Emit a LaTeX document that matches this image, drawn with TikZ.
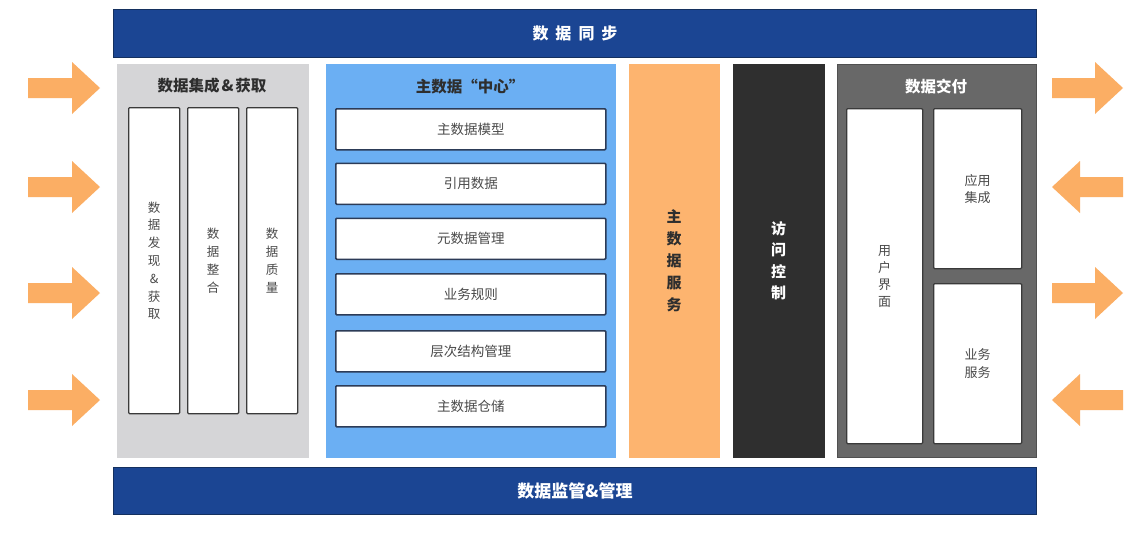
\documentclass[tikz,border=0pt]{standalone}
\usepackage{fontspec}
\setmainfont{Noto Sans CJK SC}
\definecolor{navy}{HTML}{1B4593}
\definecolor{navyedge}{HTML}{14305F}
\definecolor{lgray}{HTML}{D5D5D7}
\definecolor{lblue}{HTML}{6BAFF3}
\definecolor{orangep}{HTML}{FDB46F}
\definecolor{blackp}{HTML}{2F2F2F}
\definecolor{dgray}{HTML}{686868}
\definecolor{dgrayedge}{HTML}{505050}
\definecolor{arrowc}{HTML}{FBAE64}
\definecolor{boxedge}{HTML}{3A3A3A}
\definecolor{rowedge}{HTML}{2C3B57}
\definecolor{txtgray}{HTML}{4A4A4A}
\definecolor{titlec}{HTML}{2E2E2E}
\begin{document}
\begin{tikzpicture}[x=1pt,y=-1pt,
  bar/.style={anchor=north west, fill=navy, draw=navyedge, line width=1pt, inner sep=0pt,
    text=white, font=\bfseries\fontsize{16}{18}\selectfont},
  panel/.style={anchor=north west, inner sep=0pt, line width=1pt},
  wbox/.style={anchor=north west, fill=white, draw=boxedge, line width=1.3pt, inner sep=0pt,
    rounded corners=1pt, text=txtgray, align=center},
  rowbox/.style={wbox, draw=rowedge, line width=1.5pt, font=\fontsize{13.5}{16}\selectfont},
  vtext/.style={font=\fontsize{12.5}{17.8}\selectfont},
  rtext/.style={font=\fontsize{13}{17}\selectfont},
  ptitle/.style={font=\bfseries\fontsize{15.5}{18}\selectfont, text=titlec},
  bigv/.style={align=center, font=\bfseries\fontsize{15}{22}\selectfont},
  flowarrow/.style={fill=arrowc, draw=none}
]
\useasboundingbox[fill=white] (0,0) rectangle (1132,546);

% top and bottom bars
\node[bar, minimum width=923pt, minimum height=48pt] (sync) at (113,9)
  {数\hspace{7pt}据\hspace{7pt}同\hspace{7pt}步};
\node[bar, minimum width=923pt, minimum height=47pt, font=\bfseries\fontsize{17}{19}\selectfont] (govern) at (113,467)
  {数据监管\&管理};

% panel 1: data integration
\node[panel, fill=lgray, minimum width=192pt, minimum height=394pt] (p1) at (116,63) {};
\node[ptitle] (p1t) at (212,86) {数据集成\hspace{2pt}\&\hspace{2pt}获取};
\node[wbox, vtext, minimum width=51pt, minimum height=306pt] (c1) at (128,107) {数\\据\\发\\现\\\&\\获\\取};
\node[wbox, vtext, minimum width=51pt, minimum height=306pt] (c2) at (187,107) {数\\据\\整\\合};
\node[wbox, vtext, minimum width=51pt, minimum height=306pt] (c3) at (246,107) {数\\据\\质\\量};

% panel 2: master data hub
\node[panel, fill=lblue, minimum width=290pt, minimum height=394pt] (p2) at (325,63) {};
\node[ptitle] (p2t) at (470,87) {主数据“中心”};
\node[rowbox, minimum width=270pt, minimum height=41pt] (r1) at (335,108) {主数据模型};
\node[rowbox, minimum width=270pt, minimum height=41pt] (r2) at (335,162.5) {引用数据};
\node[rowbox, minimum width=270pt, minimum height=41pt] (r3) at (335,217.5) {元数据管理};
\node[rowbox, minimum width=270pt, minimum height=41pt] (r4) at (335,273) {业务规则};
\node[rowbox, minimum width=270pt, minimum height=41pt] (r5) at (335,330) {层次结构管理};
\node[rowbox, minimum width=270pt, minimum height=41pt] (r6) at (335,385) {主数据仓储};

% panel 3: master data service
\node[panel, fill=orangep, minimum width=91pt, minimum height=394pt, bigv, text=titlec] (p3) at (628,63)
  {主\\数\\据\\服\\务};

% panel 4: access control
\node[panel, fill=blackp, minimum width=92pt, minimum height=394pt, bigv, text=white,
  font=\bfseries\fontsize{15}{21.5}\selectfont] (p4) at (732,63)
  {访\\问\\控\\制};

% panel 5: data delivery
\node[panel, fill=dgray, draw=dgrayedge, minimum width=199pt, minimum height=393pt] (p5) at (837,63.5) {};
\node[ptitle, text=white] (p5t) at (936,87) {数据交付};
\node[wbox, rtext, minimum width=76pt, minimum height=335pt] (ui) at (846,108) {用\\户\\界\\面};
\node[wbox, rtext, minimum width=88pt, minimum height=160pt] (app) at (933,108) {应用\\集成};
\node[wbox, rtext, minimum width=88pt, minimum height=160pt, font=\fontsize{13}{18}\selectfont] (biz) at (933,283) {业务\\服务};

% arrows on the left (all pointing right)
\foreach \yy in {88,187,293,400} {
  \fill[flowarrow] (28,\yy-10) -- (72,\yy-10) -- (72,\yy-26) -- (100,\yy) -- (72,\yy+26) -- (72,\yy+10) -- (28,\yy+10) -- cycle;
}
% arrows on the right
\foreach \yy in {88,293} {
  \fill[flowarrow] (1052,\yy-10) -- (1095,\yy-10) -- (1095,\yy-26) -- (1123,\yy) -- (1095,\yy+26) -- (1095,\yy+10) -- (1052,\yy+10) -- cycle;
}
\foreach \yy in {187,400} {
  \fill[flowarrow] (1123,\yy-10) -- (1080,\yy-10) -- (1080,\yy-26) -- (1052,\yy) -- (1080,\yy+26) -- (1080,\yy+10) -- (1123,\yy+10) -- cycle;
}
\end{tikzpicture}
\end{document}
